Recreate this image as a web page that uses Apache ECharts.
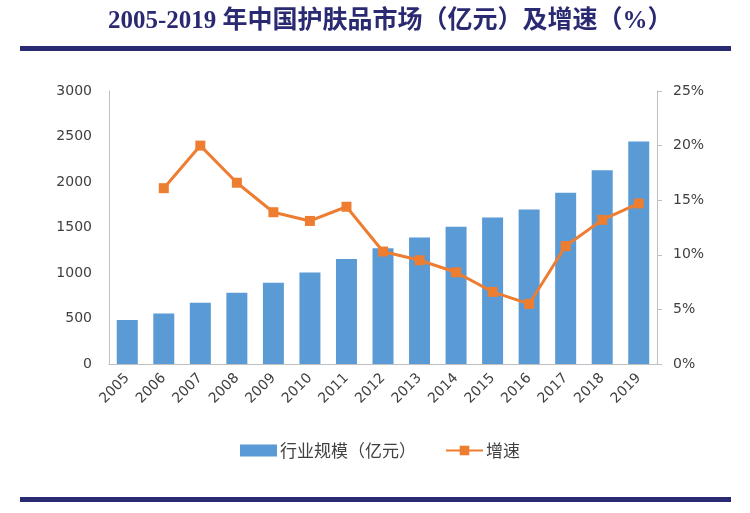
<!DOCTYPE html>
<html>
<head>
<meta charset="utf-8">
<script src="https://cdn.jsdelivr.net/npm/echarts@6/dist/echarts.min.js"></script>
<style>html,body{margin:0;padding:0;background:#fff;}#c{width:750px;height:513px;}</style>
</head>
<body>
<div id="c"></div>
<script>
const titleText = '2005-2019 年中国护肤品市场（亿元）及增速（%）';
const years = ['2005','2006','2007','2008','2009','2010','2011','2012','2013','2014','2015','2016','2017','2018','2019'];
const marketSize = [483, 556, 673, 783, 893, 1006, 1153, 1273, 1390, 1507, 1610, 1698, 1881, 2130, 2444];
const growthRate = [null, 16.1, 20.0, 16.6, 13.9, 13.1, 14.4, 10.3, 9.5, 8.4, 6.6, 5.5, 10.8, 13.2, 14.7];
const seriesNames = ['行业规模（亿元）', '增速'];

const chart = echarts.init(document.getElementById('c'), null, {renderer: 'canvas'});
const navy = '#2A2A72';
const txt = '#404040';
chart.setOption({
  animation: false,
  backgroundColor: '#fff',
  graphic: [
    {type: 'text', left: 108, top: 9, style: {text: titleText, font: 'bold 25px "Liberation Serif", "Noto Sans CJK SC", serif', fill: navy}},
    {type: 'rect', shape: {x: 20, y: 46, width: 711, height: 5}, style: {fill: navy}},
    {type: 'rect', shape: {x: 20, y: 497, width: 711, height: 5}, style: {fill: navy}}
  ],
  grid: {left: 109, right: 93, top: 91, bottom: 149},
  legend: {
    data: [{name: seriesNames[0], icon: 'rect'}, {name: seriesNames[1]}],
    left: 235, top: 437,
    itemWidth: 37, itemHeight: 12, itemGap: 29,
    textStyle: {fontSize: 17, color: txt, fontFamily: '"Noto Sans CJK SC", sans-serif', padding: [0, 0, 0, -2]}
  },
  xAxis: {
    type: 'category', data: years,
    axisLine: {lineStyle: {color: '#BFBFBF', width: 1}},
    axisTick: {show: false},
    axisLabel: {rotate: 45, fontSize: 14, color: txt, fontFamily: 'DejaVu Sans', margin: 12, interval: 0}
  },
  yAxis: [
    {
      type: 'value', min: 0, max: 3000, interval: 500,
      axisLine: {show: true, lineStyle: {color: '#BFBFBF'}},
      axisTick: {show: false},
      splitLine: {show: false},
      axisLabel: {fontSize: 14, color: txt, fontFamily: 'DejaVu Sans', margin: 17, formatter: (v) => String(v)}
    },
    {
      type: 'value', min: 0, max: 25, interval: 5, position: 'right',
      axisLine: {show: true, lineStyle: {color: '#BFBFBF'}},
      axisTick: {show: true, length: 5, lineStyle: {color: '#BFBFBF'}},
      splitLine: {show: false},
      axisLabel: {fontSize: 14, color: txt, fontFamily: 'DejaVu Sans', margin: 16, formatter: '{value}%'}
    }
  ],
  series: [
    {
      name: seriesNames[0], type: 'bar', data: marketSize, yAxisIndex: 0,
      barWidth: 21,
      itemStyle: {color: '#5B9BD5'}
    },
    {
      name: seriesNames[1], type: 'line', data: growthRate, yAxisIndex: 1,
      symbol: 'rect', symbolSize: 10,
      lineStyle: {color: '#ED7D31', width: 3},
      itemStyle: {color: '#ED7D31'}
    }
  ]
});
</script>
</body>
</html>
